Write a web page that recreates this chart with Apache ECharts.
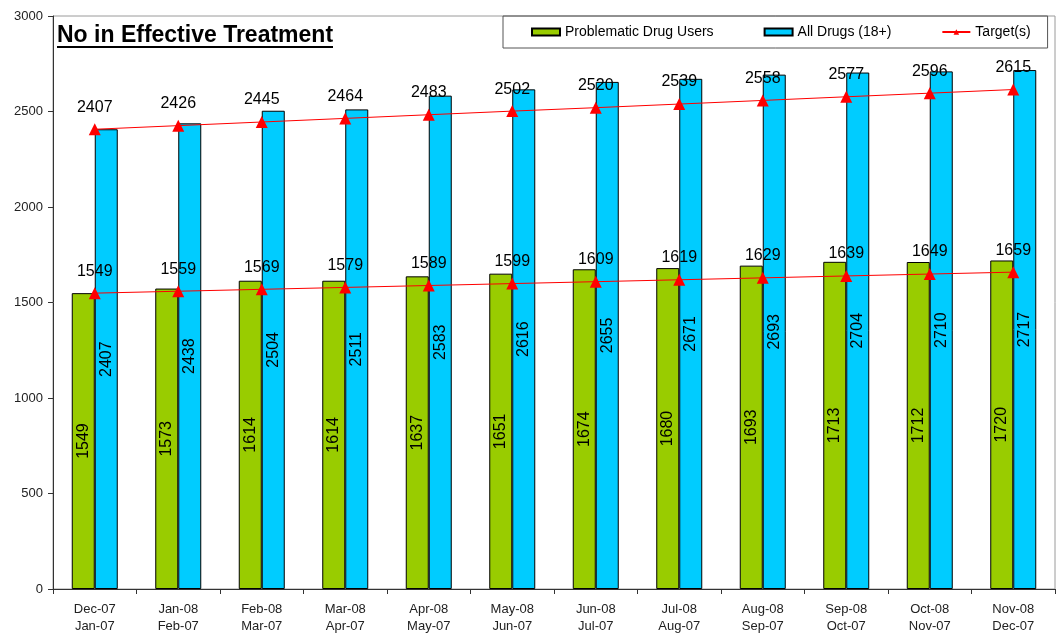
<!DOCTYPE html>
<html>
<head>
<meta charset="utf-8">
<script src="https://cdn.jsdelivr.net/npm/echarts@6/dist/echarts.min.js"></script>
<style>
html,body{margin:0;padding:0;background:#fff;}
#chart{width:1059px;height:635px;}
</style>
</head>
<body>
<div id="chart"></div>
<script>
const categories = ['Dec-07\nJan-07','Jan-08\nFeb-07','Feb-08\nMar-07','Mar-08\nApr-07','Apr-08\nMay-07','May-08\nJun-07','Jun-08\nJul-07','Jul-08\nAug-07','Aug-08\nSep-07','Sep-08\nOct-07','Oct-08\nNov-07','Nov-08\nDec-07'];
const problematicDrugUsers = [1549,1573,1614,1614,1637,1651,1674,1680,1693,1713,1712,1720];
const allDrugs18 = [2407,2438,2504,2511,2583,2616,2655,2671,2693,2704,2710,2717];
const targetPDU = [1549,1559,1569,1579,1589,1599,1609,1619,1629,1639,1649,1659];
const targetAll = [2407,2426,2445,2464,2483,2502,2520,2539,2558,2577,2596,2615];
const titleText = 'No in Effective Treatment';

const FONT = 'Liberation Sans, Arial, sans-serif';
const chart = echarts.init(document.getElementById('chart'));

const barLabel = {
  show: true, position: 'inside', rotate: 90,
  fontFamily: FONT, fontSize: 16, color: '#000'
};
const targetLabel = {
  show: true, position: 'top', distance: 8,
  fontFamily: FONT, fontSize: 16, color: '#000'
};

chart.setOption({
  animation: false,
  backgroundColor: '#fff',
  textStyle: { fontFamily: FONT },
  grid: { left: 53, right: 4, top: 16, bottom: 46, show: true, borderColor: '#9a9a9a', borderWidth: 1 },
  legend: {
    left: 503, top: 16,
    padding: [9, 17, 9, 28],
    itemGap: 50,
    itemWidth: 28, itemHeight: 7,
    borderColor: '#555', borderWidth: 1,
    textStyle: { fontFamily: FONT, fontSize: 14, color: '#000' },
    data: [
      { name: 'Problematic Drug Users', icon: 'rect' },
      { name: 'All Drugs (18+)', icon: 'rect' },
      { name: 'Target(s)', itemStyle: { color: '#ff0000' } }
    ]
  },
  graphic: [
    { type: 'text', left: 57, top: 24, style: { text: titleText, font: 'bold 23px ' + FONT, fill: '#000' } },
    { type: 'line', shape: { x1: 57, y1: 47, x2: 333, y2: 47 }, style: { stroke: '#000', lineWidth: 2 } }
  ],
  xAxis: {
    type: 'category', data: categories,
    axisLine: { lineStyle: { color: '#333' } },
    axisTick: { show: true, length: 5, lineStyle: { color: '#333' } },
    axisLabel: { interval: 0, fontFamily: FONT, fontSize: 13, color: '#222', lineHeight: 17, margin: 12 }
  },
  yAxis: {
    type: 'value', min: 0, max: 3000, interval: 500,
    splitLine: { show: false },
    axisLine: { show: true, lineStyle: { color: '#333' } },
    axisTick: { show: true, length: 5, lineStyle: { color: '#333' } },
    axisLabel: { fontFamily: FONT, fontSize: 13, color: '#222', margin: 10, formatter: v => String(v) }
  },
  series: [
    {
      name: 'Problematic Drug Users', type: 'bar', data: problematicDrugUsers,
      barWidth: 23, barGap: '0%',
      itemStyle: { color: '#99cc00', borderColor: '#000', borderWidth: 1 },
      label: barLabel
    },
    {
      name: 'All Drugs (18+)', type: 'bar', data: allDrugs18,
      barWidth: 23, barGap: '0%',
      itemStyle: { color: '#00ccff', borderColor: '#000', borderWidth: 1 },
      label: barLabel
    },
    {
      name: 'Target(s)', type: 'line', data: targetPDU,
      symbol: 'triangle', symbolSize: 12,
      lineStyle: { color: '#ff0000', width: 1 },
      itemStyle: { color: '#ff0000' },
      label: targetLabel, z: 5
    },
    {
      name: 'Target(s)', type: 'line', data: targetAll,
      symbol: 'triangle', symbolSize: 12,
      lineStyle: { color: '#ff0000', width: 1 },
      itemStyle: { color: '#ff0000' },
      label: targetLabel, z: 5
    }
  ]
});
</script>
</body>
</html>
